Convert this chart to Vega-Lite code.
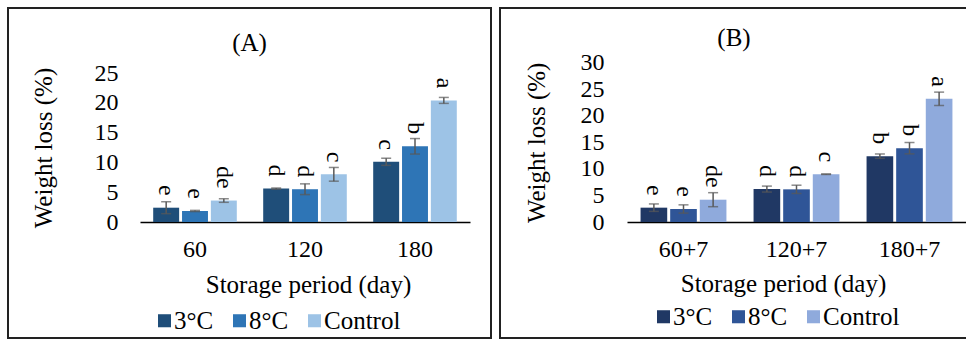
{
  "$schema": "https://vega.github.io/schema/vega-lite/v6.json",
  "padding": {"left": 7, "top": 7, "right": 0, "bottom": 0},
  "spacing": 7,
  "datasets": {
    "A": [
      {"period": "60", "temp": "3°C", "value": 2.4, "lo": 1.4, "hi": 3.4, "letter": "e"},
      {"period": "60", "temp": "8°C", "value": 1.85, "lo": 1.75, "hi": 1.95, "letter": "e"},
      {"period": "60", "temp": "Control", "value": 3.6, "lo": 3.3, "hi": 3.9, "letter": "de"},
      {"period": "120", "temp": "3°C", "value": 5.6, "lo": 5.5, "hi": 5.7, "letter": "d"},
      {"period": "120", "temp": "8°C", "value": 5.5, "lo": 4.6, "hi": 6.4, "letter": "d"},
      {"period": "120", "temp": "Control", "value": 8.0, "lo": 6.85, "hi": 9.15, "letter": "c"},
      {"period": "180", "temp": "3°C", "value": 10.1, "lo": 9.5, "hi": 10.7, "letter": "c"},
      {"period": "180", "temp": "8°C", "value": 12.7, "lo": 11.4, "hi": 14.0, "letter": "b"},
      {"period": "180", "temp": "Control", "value": 20.4, "lo": 19.9, "hi": 20.9, "letter": "a"}
    ],
    "B": [
      {"period": "60+7", "temp": "3°C", "value": 2.7, "lo": 2.0, "hi": 3.4, "letter": "e"},
      {"period": "60+7", "temp": "8°C", "value": 2.45, "lo": 1.67, "hi": 3.23, "letter": "e"},
      {"period": "60+7", "temp": "Control", "value": 4.2, "lo": 2.88, "hi": 5.52, "letter": "de"},
      {"period": "120+7", "temp": "3°C", "value": 6.2, "lo": 5.64, "hi": 6.76, "letter": "d"},
      {"period": "120+7", "temp": "8°C", "value": 6.15, "lo": 5.37, "hi": 6.93, "letter": "d"},
      {"period": "120+7", "temp": "Control", "value": 9.0, "lo": 8.95, "hi": 9.05, "letter": "c"},
      {"period": "180+7", "temp": "3°C", "value": 12.4, "lo": 11.99, "hi": 12.81, "letter": "b"},
      {"period": "180+7", "temp": "8°C", "value": 13.9, "lo": 12.83, "hi": 14.97, "letter": "b"},
      {"period": "180+7", "temp": "Control", "value": 23.2, "lo": 21.94, "hi": 24.46, "letter": "a"}
    ]
  },
  "hconcat": [
    {
      "width": 483,
      "height": 330,
      "data": {"name": "A"},
      "title": {"text": "(A)", "offset": -68, "baseline": "alphabetic", "anchor": "middle", "frame": "group", "fontSize": 25, "font": "Liberation Serif", "fontWeight": "normal", "color": "#000"},
      "encoding": {
        "x": {
          "field": "period", "type": "nominal", "sort": ["60", "120", "180"],
          "scale": {"range": [132, 462], "paddingInner": 0.24, "paddingOuter": 0.12},
          "axis": {"orient": "bottom", "offset": -116, "labelAngle": 0, "ticks": false, "labelPadding": 15, "domainColor": "#000", "domainWidth": 1.5, "title": "Storage period (day)", "titlePadding": 11, "titleX": 300}
        },
        "xOffset": {"field": "temp", "type": "nominal", "sort": ["3°C", "8°C", "Control"], "scale": {"paddingInner": 0.1, "paddingOuter": 0}}
      },
      "layer": [
        {
          "mark": {"type": "bar"},
          "encoding": {
            "y": {
              "field": "value", "type": "quantitative",
              "scale": {"domain": [0, 25], "range": [214, 65], "nice": false, "zero": true},
              "axis": {"orient": "left", "offset": -110, "values": [0, 5, 10, 15, 20, 25], "ticks": false, "domain": false, "grid": false, "labelPadding": 0, "title": "Weight loss (%)", "titlePadding": 38}
            },
            "color": {
              "field": "temp", "type": "nominal", "sort": ["3°C", "8°C", "Control"],
              "scale": {"domain": ["3°C", "8°C", "Control"], "range": ["#1f4e79", "#2e75b6", "#9dc3e6"]},
              "legend": {"orient": "none", "legendX": 144, "legendY": 300, "direction": "horizontal", "title": null, "symbolType": "square", "symbolSize": 170, "symbolStrokeWidth": 0, "labelFontSize": 25, "labelOffset": -3, "columnPadding": 13, "labelColor": "#000", "labelFont": "Liberation Serif"}
            }
          }
        },
        {
          "mark": {"type": "rule", "color": "#595959", "strokeWidth": 1.5},
          "encoding": {"y": {"field": "lo", "type": "quantitative"}, "y2": {"field": "hi"}}
        },
        {
          "mark": {"type": "tick", "color": "#595959", "size": 10, "thickness": 1.5, "orient": "horizontal"},
          "encoding": {"y": {"field": "lo", "type": "quantitative"}}
        },
        {
          "mark": {"type": "tick", "color": "#595959", "size": 10, "thickness": 1.5, "orient": "horizontal"},
          "encoding": {"y": {"field": "hi", "type": "quantitative"}}
        },
        {
          "mark": {"type": "text", "angle": 90, "align": "right", "baseline": "middle", "dx": -12, "fontSize": 24, "font": "Liberation Serif", "color": "#000"},
          "encoding": {"y": {"field": "value", "type": "quantitative"}, "text": {"field": "letter"}}
        }
      ]
    },
    {
      "width": 468,
      "height": 330,
      "data": {"name": "B"},
      "title": {"text": "(B)", "offset": -63, "baseline": "alphabetic", "anchor": "middle", "frame": "group", "fontSize": 25, "font": "Liberation Serif", "fontWeight": "normal", "color": "#000"},
      "encoding": {
        "x": {
          "field": "period", "type": "nominal", "sort": ["60+7", "120+7", "180+7"],
          "scale": {"range": [127, 466], "paddingInner": 0.24, "paddingOuter": 0.12},
          "axis": {"orient": "bottom", "offset": -116, "labelAngle": 0, "ticks": false, "labelPadding": 15, "domainColor": "#000", "domainWidth": 1.5, "title": "Storage period (day)", "titlePadding": 10, "titleX": 283}
        },
        "xOffset": {"field": "temp", "type": "nominal", "sort": ["3°C", "8°C", "Control"], "scale": {"paddingInner": 0.1, "paddingOuter": 0}}
      },
      "layer": [
        {
          "mark": {"type": "bar"},
          "encoding": {
            "y": {
              "field": "value", "type": "quantitative",
              "scale": {"domain": [0, 30], "range": [214, 54.7], "nice": false, "zero": true},
              "axis": {"orient": "left", "offset": -104, "values": [0, 5, 10, 15, 20, 25, 30], "ticks": false, "domain": false, "grid": false, "labelPadding": 0, "title": "Weight loss (%)", "titlePadding": 31}
            },
            "color": {
              "field": "temp", "type": "nominal", "sort": ["3°C", "8°C", "Control"],
              "scale": {"domain": ["3°C", "8°C", "Control"], "range": ["#203864", "#2f5597", "#8faadc"]},
              "legend": {"orient": "none", "legendX": 151, "legendY": 296, "direction": "horizontal", "title": null, "symbolType": "square", "symbolSize": 170, "symbolStrokeWidth": 0, "labelFontSize": 25, "labelOffset": -3, "columnPadding": 13, "labelColor": "#000", "labelFont": "Liberation Serif"}
            }
          }
        },
        {
          "mark": {"type": "rule", "color": "#595959", "strokeWidth": 1.5},
          "encoding": {"y": {"field": "lo", "type": "quantitative"}, "y2": {"field": "hi"}}
        },
        {
          "mark": {"type": "tick", "color": "#595959", "size": 10, "thickness": 1.5, "orient": "horizontal"},
          "encoding": {"y": {"field": "lo", "type": "quantitative"}}
        },
        {
          "mark": {"type": "tick", "color": "#595959", "size": 10, "thickness": 1.5, "orient": "horizontal"},
          "encoding": {"y": {"field": "hi", "type": "quantitative"}}
        },
        {
          "mark": {"type": "text", "angle": 90, "align": "right", "baseline": "middle", "dx": -12, "fontSize": 24, "font": "Liberation Serif", "color": "#000"},
          "encoding": {"y": {"field": "value", "type": "quantitative"}, "text": {"field": "letter"}}
        }
      ]
    }
  ],
  "resolve": {"scale": {"color": "independent", "x": "independent", "y": "independent", "xOffset": "independent"}, "legend": {"color": "independent"}},
  "config": {
    "view": {"stroke": "#222", "strokeWidth": 2},
    "font": "Liberation Serif",
    "axis": {"labelFont": "Liberation Serif", "titleFont": "Liberation Serif", "labelFontSize": 24, "titleFontSize": 25, "labelColor": "#000", "titleColor": "#000", "titleFontWeight": "normal", "grid": false}
  }
}
